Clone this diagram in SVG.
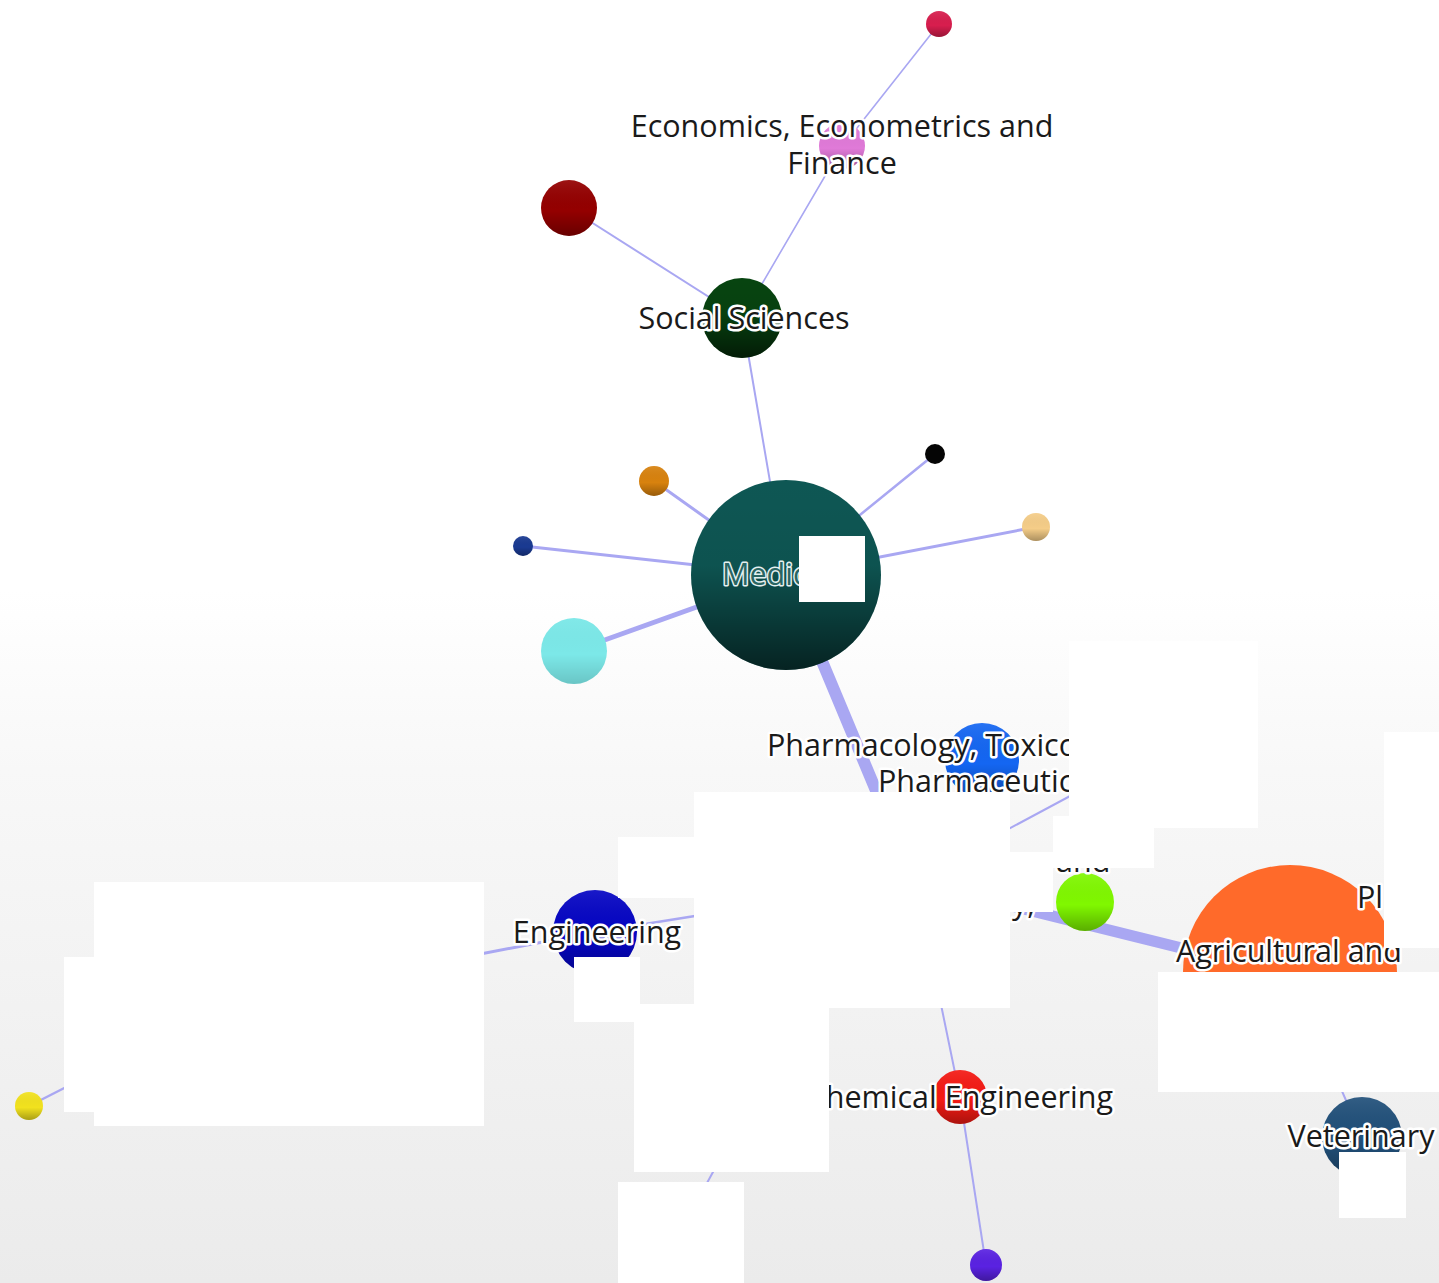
<svg xmlns="http://www.w3.org/2000/svg" width="1439" height="1283" viewBox="0 0 1439 1283">
<defs>
<linearGradient id="bg" x1="0" y1="0" x2="0" y2="1">
<stop offset="0" stop-color="#ffffff"/>
<stop offset="0.46" stop-color="#ffffff"/>
<stop offset="0.6" stop-color="#f8f8f8"/>
<stop offset="1" stop-color="#ebebeb"/>
</linearGradient>
<linearGradient id="shade" x1="0" y1="0" x2="0" y2="1">
<stop offset="0" stop-color="#ffffff" stop-opacity="0.08"/>
<stop offset="0.55" stop-color="#000000" stop-opacity="0"/>
<stop offset="1" stop-color="#000000" stop-opacity="0.3"/>
</linearGradient>
<linearGradient id="shadeDeep" x1="0" y1="0" x2="0" y2="1">
<stop offset="0" stop-color="#000000" stop-opacity="0"/>
<stop offset="0.45" stop-color="#000000" stop-opacity="0.05"/>
<stop offset="1" stop-color="#000000" stop-opacity="0.6"/>
</linearGradient>
<style>
.e{stroke:#a9a7f2;stroke-linecap:round;fill:none}
.sh{fill:url(#shade)}
.sd{fill:url(#shadeDeep)}
.lb{font-family:"Open Sans","Noto Sans",sans-serif;font-size:30.5px;fill:#1a1a1a;stroke:#ffffff;stroke-width:5;stroke-linejoin:round;paint-order:stroke}
.lw{font-family:"Open Sans","Noto Sans",sans-serif;font-size:30.5px;fill:#2a6663;stroke:#e4f0f0;stroke-width:3;stroke-linejoin:round;paint-order:stroke}
.m{fill:#ffffff}
</style>
</defs>
<rect x="0" y="0" width="1439" height="1283" fill="url(#bg)"/>
<g id="connectors">
<line class="e" x1="939" y1="24" x2="842" y2="147" stroke-width="1.6"/>
<line class="e" x1="842" y1="147" x2="742" y2="318" stroke-width="1.6"/>
<line class="e" x1="569" y1="208" x2="742" y2="318" stroke-width="2"/>
<line class="e" x1="742" y1="318" x2="786" y2="575" stroke-width="2"/>
<line class="e" x1="654" y1="481" x2="786" y2="575" stroke-width="3"/>
<line class="e" x1="935" y1="454" x2="786" y2="575" stroke-width="2.5"/>
<line class="e" x1="523" y1="546" x2="786" y2="575" stroke-width="3"/>
<line class="e" x1="1036" y1="527" x2="786" y2="575" stroke-width="3"/>
<line class="e" x1="574" y1="651" x2="786" y2="575" stroke-width="5"/>
<line class="e" x1="786" y1="575" x2="905" y2="860" stroke-width="12" stroke="#9d9cf1"/>
<line class="e" x1="1100" y1="780" x2="960" y2="855" stroke-width="2"/>
<line class="e" x1="1000" y1="903" x2="1290" y2="975" stroke-width="11" stroke="#9d9cf1"/>
<line class="e" x1="470" y1="956" x2="595" y2="932" stroke-width="3"/>
<line class="e" x1="595" y1="932" x2="720" y2="912" stroke-width="2.5"/>
<line class="e" x1="29" y1="1106" x2="80" y2="1080" stroke-width="2.5"/>
<line class="e" x1="725" y1="1150" x2="695" y2="1205" stroke-width="2"/>
<line class="e" x1="938" y1="990" x2="960" y2="1097" stroke-width="2"/>
<line class="e" x1="960" y1="1097" x2="986" y2="1265" stroke-width="2"/>
<line class="e" x1="1290" y1="972" x2="1362" y2="1137" stroke-width="2"/>
</g>
<g id="node-crimson"><circle cx="939" cy="24" r="13" fill="#d81e4e"/><circle class="sh" cx="939" cy="24" r="13"/></g>
<g id="node-economics"><circle cx="842" cy="146" r="23" fill="#e07ad8"/><circle class="sh" cx="842" cy="146" r="23"/></g>
<g id="node-darkred"><circle cx="569" cy="208" r="28" fill="#940000"/><circle class="sh" cx="569" cy="208" r="28"/></g>
<g id="node-social"><circle cx="742" cy="318" r="40" fill="#074410"/><circle class="sd" cx="742" cy="318" r="40"/></g>
<g id="node-orange-small"><circle cx="654" cy="481" r="15" fill="#d8820e"/><circle class="sh" cx="654" cy="481" r="15"/></g>
<g id="node-black"><circle cx="935" cy="454" r="10" fill="#050505"/></g>
<g id="node-navy"><circle cx="523" cy="546" r="10" fill="#1a3a92"/><circle class="sh" cx="523" cy="546" r="10"/></g>
<g id="node-peach"><circle cx="1036" cy="527" r="14" fill="#f5cd88"/><circle class="sh" cx="1036" cy="527" r="14"/></g>
<g id="node-cyan"><circle cx="574" cy="651" r="33" fill="#7ce8e8"/><circle class="sh" cx="574" cy="651" r="33" opacity="0.5"/></g>
<g id="node-medicine"><circle cx="786" cy="575" r="95" fill="#0e5754"/><circle class="sd" cx="786" cy="575" r="95"/></g>
<g id="node-pharmacology"><circle cx="982" cy="760" r="37" fill="#1466f2"/><circle class="sh" cx="982" cy="760" r="37"/></g>
<g id="node-lime"><circle cx="1085" cy="902" r="29" fill="#80f800"/><circle class="sh" cx="1085" cy="902" r="29"/></g>
<g id="node-agricultural"><circle cx="1290" cy="972" r="107" fill="#ff6a2a"/></g>
<g id="node-engineering"><circle cx="595" cy="932" r="42" fill="#0606c4"/><circle class="sh" cx="595" cy="932" r="42"/></g>
<g id="node-yellow"><circle cx="29" cy="1106" r="14" fill="#f2e21e"/><circle class="sh" cx="29" cy="1106" r="14"/></g>
<g id="node-chemeng"><circle cx="960" cy="1097" r="27" fill="#f41a14"/><circle class="sh" cx="960" cy="1097" r="27"/></g>
<g id="node-purple"><circle cx="986" cy="1265" r="16" fill="#5a22e2"/><circle class="sh" cx="986" cy="1265" r="16"/></g>
<g id="node-veterinary"><circle cx="1362" cy="1137" r="40" fill="#21507a"/><circle class="sh" cx="1362" cy="1137" r="40"/></g>
<g id="labels">
<text class="lb" text-anchor="middle"><tspan x="842" y="137">Economics, Econometrics and</tspan><tspan x="842" y="174">Finance</tspan></text>
<text class="lb" x="744" y="329" text-anchor="middle">Social Sciences</text>
<text class="lw" x="722" y="585">Medicine</text>
<text class="lb"><tspan x="767" y="756">Pharmacology, Toxico</tspan><tspan x="878" y="792">Pharmaceutic</tspan></text>
<text class="lb" x="597" y="943" text-anchor="middle">Engineering</text>
<text class="lb" x="1113" y="1108" text-anchor="end">Chemical Engineering</text>
<text class="lb" x="1361" y="1147" text-anchor="middle">Veterinary</text>
<text class="lb" x="1289" y="962" text-anchor="middle">Agricultural and</text>
<text class="lb" x="1357" y="908">Pl</text>
<text class="lb" x="1056" y="872">and</text>
<text class="lb" x="1012" y="914">y,</text>
</g>
<g id="masks">
<rect class="m" x="799" y="536" width="66" height="66"/>
<rect class="m" x="1069" y="641" width="189" height="187"/>
<rect class="m" x="1053" y="816" width="101" height="52"/>
<rect class="m" x="1384" y="732" width="55" height="216"/>
<rect class="m" x="1158" y="972" width="281" height="120"/>
<rect class="m" x="1339" y="1152" width="67" height="66"/>
<rect class="m" x="694" y="792" width="316" height="216"/>
<rect class="m" x="618" y="837" width="76" height="61"/>
<rect class="m" x="1010" y="852" width="43" height="60"/>
<rect class="m" x="574" y="957" width="66" height="65"/>
<rect class="m" x="94" y="882" width="390" height="244"/>
<rect class="m" x="64" y="957" width="30" height="155"/>
<rect class="m" x="634" y="1004" width="195" height="168"/>
<rect class="m" x="618" y="1182" width="126" height="101"/>
</g>
</svg>
